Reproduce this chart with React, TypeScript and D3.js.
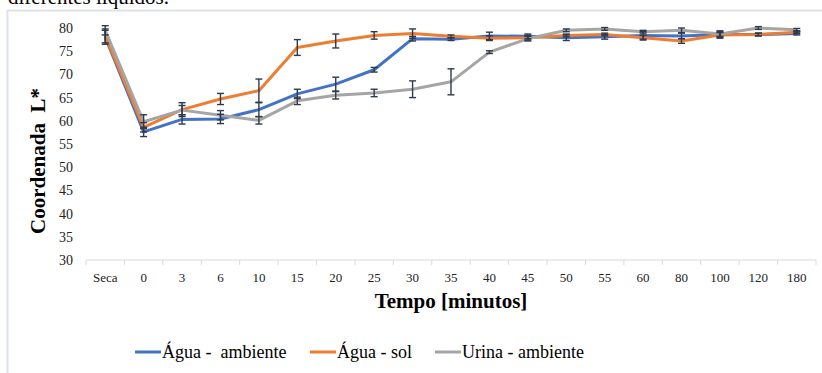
import React from "react";
import * as d3 from "d3";

const categories = ["Seca", "0", "3", "6", "10", "15", "20", "25", "30", "35", "40", "45", "50", "55", "60", "80", "100", "120", "180"];
const aguaAmbiente = [78.0, 57.6, 60.3, 60.4, 62.4, 65.8, 67.9, 71.0, 77.7, 77.6, 78.3, 78.2, 77.9, 78.1, 78.4, 78.3, 78.6, 78.6, 78.8];
const aguaSol = [78.3, 58.6, 62.4, 64.7, 66.5, 75.8, 77.2, 78.4, 78.8, 78.2, 77.8, 77.9, 78.4, 78.6, 77.9, 77.2, 78.5, 78.6, 79.1];
const urinaAmbiente = [79.5, 59.8, 62.3, 61.2, 60.1, 64.3, 65.5, 66.0, 66.8, 68.4, 74.8, 77.7, 79.5, 79.8, 79.2, 79.5, 78.7, 80.0, 79.6];
const errAguaAmbiente = [1.5, 1.0, 1.0, 1.0, 1.5, 1.0, 1.5, 0.5, 0.5, 0.3, 0.8, 0.5, 0.6, 0.5, 0.8, 0.6, 0.8, 0.3, 0.3];
const errAguaSol = [1.5, 1.0, 1.5, 1.2, 2.5, 1.7, 1.5, 0.8, 1.0, 0.3, 0.5, 0.5, 0.3, 0.3, 0.5, 0.5, 0.5, 0.3, 0.3];
const errUrina = [1.0, 1.5, 1.0, 1.0, 0.8, 0.8, 0.8, 0.8, 1.8, 2.8, 0.3, 0.5, 0.3, 0.3, 0.3, 0.5, 0.5, 0.3, 0.3];
const yTicks = [30, 35, 40, 45, 50, 55, 60, 65, 70, 75, 80];
const seriesNames = ["Água -\u00a0\u00a0ambiente", "Água - sol", "Urina - ambiente"];
const seriesColors = ["#4472C4", "#ED7D31", "#A5A5A5"];

const App = () => {
  const width = 822, height = 373;
  const x = d3.scaleBand().domain(categories).range([86, 816]);
  const y = d3.scaleLinear().domain([30, 80]).range([260, 28]);
  const cx = (c: string) => (x(c) as number) + x.bandwidth() / 2;
  const allValues = [aguaAmbiente, aguaSol, urinaAmbiente];
  const allErr = [errAguaAmbiente, errAguaSol, errUrina];
  const line = d3.line<number>()
    .x((d, i) => cx(categories[i]))
    .y(d => y(d));
  const serif = "'Liberation Serif', Tinos, 'Times New Roman', 'DejaVu Serif', serif";
  const legendX = [135, 310, 435];

  return (
    <svg width={width} height={height} style={{position: "absolute", left: 0, top: 0, fontFamily: serif}}>
      <rect width={width} height={height} fill="#fff" />
      <text x={8} y={4} fontSize={21} fill="#000">diferentes líquidos.</text>
      <rect x={7.5} y={10.5} width={830} height={380} fill="none" stroke="#dde1e8" strokeWidth={2} />

      {yTicks.map(t => (
        <text key={t} x={73} y={y(t)} dy="0.35em" textAnchor="end" fontSize={14} fill="#222">{t}</text>
      ))}
      <line x1={86} x2={816} y1={260} y2={260} stroke="#d9d9d9" strokeWidth={1} />
      {categories.map((c, i) => (
        <line key={"t" + i} x1={(x(c) as number)} x2={(x(c) as number)} y1={260} y2={265} stroke="#d9d9d9" />
      ))}
      <line x1={816} x2={816} y1={260} y2={265} stroke="#d9d9d9" />
      {categories.map((c, i) => (
        <text key={"l" + i} x={cx(c)} y={282} textAnchor="middle" fontSize={13} fill="#222">{c}</text>
      ))}

      {allValues.map((vals, s) => (
        <path key={"s" + s} d={line(vals) || ""} fill="none" stroke={seriesColors[s]} strokeWidth={3} strokeLinejoin="round" />
      ))}

      {allValues.map((vals, s) => vals.map((v, i) => {
        const px = cx(categories[i]);
        const e = allErr[s][i];
        return (
          <g key={"e" + s + "-" + i} stroke="#2e3a4e" strokeWidth={1.4}>
            <line x1={px} x2={px} y1={y(v + e)} y2={y(v - e)} />
            <line x1={px - 3.5} x2={px + 3.5} y1={y(v + e)} y2={y(v + e)} />
            <line x1={px - 3.5} x2={px + 3.5} y1={y(v - e)} y2={y(v - e)} />
          </g>
        );
      }))}

      <text transform={`translate(45,161) rotate(-90)`} textAnchor="middle" fontSize={21} fontWeight="bold" fill="#000">{"Coordenada\u00a0\u00a0L*"}</text>
      <text x={451} y={308} textAnchor="middle" fontSize={21} fontWeight="bold" fill="#000">Tempo [minutos]</text>

      {seriesNames.map((n, s) => (
        <g key={"lg" + s}>
          <line x1={legendX[s]} x2={legendX[s] + 26} y1={352} y2={352} stroke={seriesColors[s]} strokeWidth={3} />
          <text x={legendX[s] + 27} y={358} fontSize={18} fill="#000">{n}</text>
        </g>
      ))}
    </svg>
  );
};

export default App;
